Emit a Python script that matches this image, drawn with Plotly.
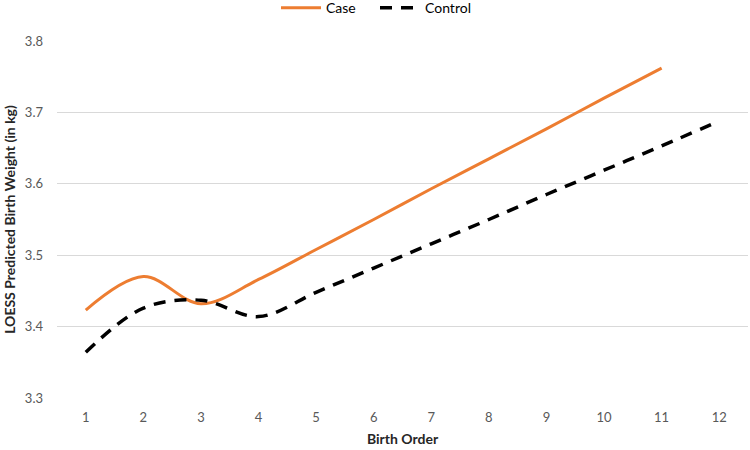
import plotly.graph_objects as go

birth_order = [1, 2, 3, 4, 5, 6, 7, 8, 9, 10, 11, 12]
case_x = [1, 2, 3, 4, 5, 6, 7, 8, 9, 10, 11]
case_y = [3.423, 3.470, 3.432, 3.466, 3.508, 3.550, 3.593, 3.635, 3.677, 3.720, 3.762]
control_x = [1, 2, 3, 4, 5, 6, 7, 8, 9, 10, 11, 12]
control_y = [3.364, 3.426, 3.437, 3.414, 3.448, 3.482, 3.516, 3.550, 3.585, 3.619, 3.653, 3.688]
y_ticks = [3.3, 3.4, 3.5, 3.6, 3.7, 3.8]

font_family = "Lato, Open Sans, sans-serif"

fig = go.Figure()
fig.add_trace(go.Scatter(
    x=case_x, y=case_y, mode="lines", name="Case",
    line=dict(color="#ED7D31", width=3, shape="spline", smoothing=1.0),
))
fig.add_trace(go.Scatter(
    x=control_x, y=control_y, mode="lines", name="Control",
    line=dict(color="#000000", width=3.5, shape="spline", smoothing=1.0, dash="12px,9px"),
))

fig.update_layout(
    width=750, height=450,
    margin=dict(l=57, r=2, t=41, b=52),
    paper_bgcolor="white", plot_bgcolor="white",
    font=dict(family=font_family, color="#595959", size=13),
    showlegend=True,
    legend=dict(orientation="h", xref="container", x=0.5, xanchor="center",
                yref="container", y=0.982, yanchor="middle",
                entrywidth=44, entrywidthmode="pixels",
                font=dict(size=14, color="#000000"), itemwidth=40, bgcolor="rgba(0,0,0,0)"),
    xaxis=dict(
        range=[0.5, 12.5], tickmode="array", tickvals=birth_order,
        ticktext=[str(v) for v in birth_order],
        showgrid=False, zeroline=False, showline=False, ticks="",
        automargin=False, ticklabelstandoff=10,
        title=dict(text="<b>Birth Order</b>", font=dict(size=14, color="#262626"), standoff=10),
        tickfont=dict(size=13, color="#595959"),
    ),
    yaxis=dict(
        range=[3.3, 3.8], tickmode="array", tickvals=y_ticks,
        ticktext=[f"{v:.1f}" for v in y_ticks],
        showgrid=True, gridcolor="#D9D9D9", gridwidth=1, zeroline=False, showline=False, ticks="",
        automargin=False, ticklabelstandoff=13,
        title=dict(text="<b>LOESS Predicted Birth Weight (in kg)</b>", font=dict(size=14, color="#262626"), standoff=5),
        tickfont=dict(size=13, color="#595959"),
    ),
)

fig.write_html("out.html", config={"displayModeBar": False},
               post_script="document.body.style.margin='0';")
